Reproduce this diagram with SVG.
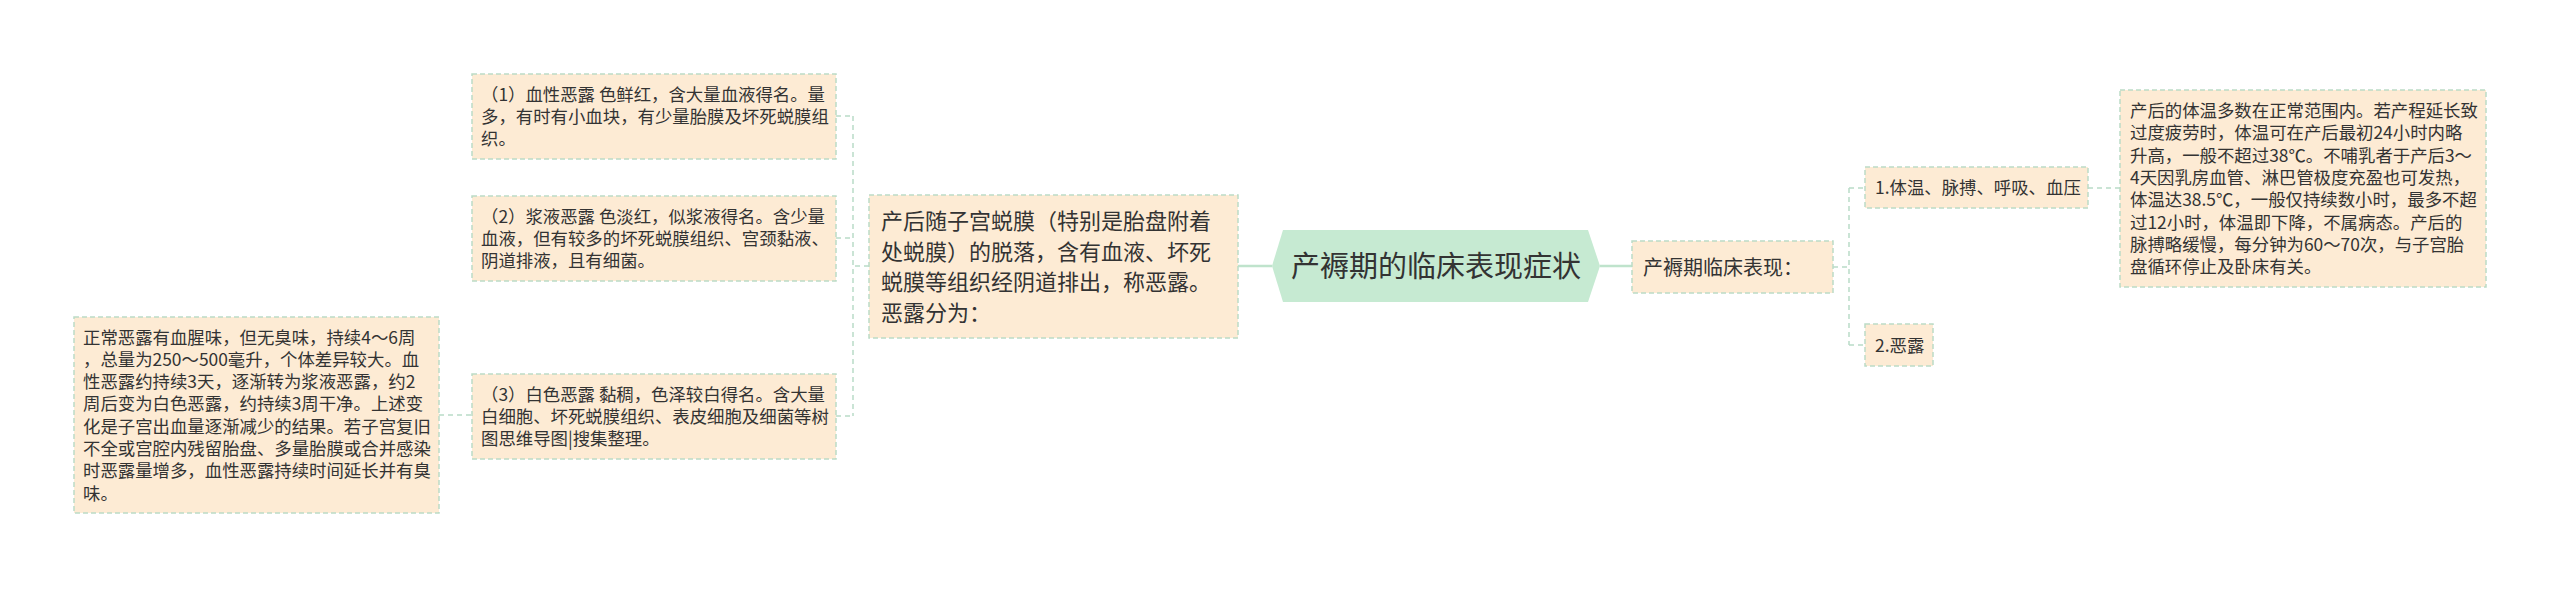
<svg xmlns="http://www.w3.org/2000/svg" width="2560" height="589" viewBox="0 0 2560 589">
<style>
.box{fill:#fdebd4;stroke:#bcdcc6;stroke-width:1.5;stroke-dasharray:5 3}
.t{font-family:"Noto Sans CJK SC","Noto Sans",sans-serif;fill:#333333}
.s{font-size:17.4px}
.m{font-size:22px}
.c{font-size:29px}
.r{font-size:20px}
.solid{fill:none;stroke:#bfe3cc;stroke-width:2.5}
.dash{fill:none;stroke:#b9dcc8;stroke-width:1.5;stroke-dasharray:5 4}
</style>
<rect width="2560" height="589" fill="#ffffff"/>
<g id="connectors">
<path class="solid" d="M1238,266 H1272 M1600,266 H1632"/>
<path class="dash" d="M869,266 H853 M853,116 V416 M836,116 H853 M836,238 H853 M836,416 H853"/>
<path class="dash" d="M439,415 H472"/>
<path class="dash" d="M1833,267 H1849 M1849,188 V345 M1849,188 H1865 M1849,345 H1865"/>
<path class="dash" d="M2088,188 H2120"/>
</g>
<g id="center">
<polygon points="1272,266 1283,230 1588,230 1600,266 1588,302 1283,302" fill="#c6ead2"/>
<text class="t c" x="1436" y="277" text-anchor="middle">产褥期的临床表现症状</text>
</g>
<g id="lochia-def">
<rect class="box" x="869" y="195" width="369" height="143"/>
<text class="t m"><tspan x="881" y="229">产后随子宫蜕膜（特别是胎盘附着</tspan><tspan x="881" y="259.5">处蜕膜）的脱落，含有血液、坏死</tspan><tspan x="881" y="290">蜕膜等组织经阴道排出，称恶露。</tspan><tspan x="881" y="320.5">恶露分为：</tspan></text>
</g>
<g id="lochia-1">
<rect class="box" x="472" y="74" width="364" height="85"/>
<text class="t s"><tspan x="481" y="100.7">（1）血性恶露 色鲜红，含大量血液得名。量</tspan><tspan x="481" y="123">多，有时有小血块，有少量胎膜及坏死蜕膜组</tspan><tspan x="481" y="145.3">织。</tspan></text>
</g>
<g id="lochia-2">
<rect class="box" x="472" y="196" width="364" height="85"/>
<text class="t s"><tspan x="481" y="222.7">（2）浆液恶露 色淡红，似浆液得名。含少量</tspan><tspan x="481" y="245">血液，但有较多的坏死蜕膜组织、宫颈黏液、</tspan><tspan x="481" y="267.3">阴道排液，且有细菌。</tspan></text>
</g>
<g id="lochia-3">
<rect class="box" x="472" y="374" width="364" height="85"/>
<text class="t s"><tspan x="481" y="400.7">（3）白色恶露 黏稠，色泽较白得名。含大量</tspan><tspan x="481" y="423">白细胞、坏死蜕膜组织、表皮细胞及细菌等树</tspan><tspan x="481" y="445.3">图思维导图|搜集整理。</tspan></text>
</g>
<g id="lochia-normal">
<rect class="box" x="74" y="317" width="365" height="196"/>
<text class="t s"><tspan x="83" y="343.5">正常恶露有血腥味，但无臭味，持续4～6周</tspan><tspan x="83" y="365.8">，总量为250～500毫升，个体差异较大。血</tspan><tspan x="83" y="388.1">性恶露约持续3天，逐渐转为浆液恶露，约2</tspan><tspan x="83" y="410.4">周后变为白色恶露，约持续3周干净。上述变</tspan><tspan x="83" y="432.7">化是子宫出血量逐渐减少的结果。若子宫复旧</tspan><tspan x="83" y="455">不全或宫腔内残留胎盘、多量胎膜或合并感染</tspan><tspan x="83" y="477.3">时恶露量增多，血性恶露持续时间延长并有臭</tspan><tspan x="83" y="499.6">味。</tspan></text>
</g>
<g id="clinical">
<rect class="box" x="1632" y="241" width="201" height="52"/>
<text class="t r" x="1643" y="274.6">产褥期临床表现：</text>
</g>
<g id="vitals">
<rect class="box" x="1865" y="167" width="223" height="41"/>
<text class="t s" x="1875" y="194">1.体温、脉搏、呼吸、血压</text>
</g>
<g id="lochia">
<rect class="box" x="1865" y="324" width="68" height="42"/>
<text class="t s" x="1875" y="351.5">2.恶露</text>
</g>
<g id="vitals-detail">
<rect class="box" x="2120" y="90" width="366" height="197"/>
<text class="t s"><tspan x="2130" y="117">产后的体温多数在正常范围内。若产程延长致</tspan><tspan x="2130" y="139.3">过度疲劳时，体温可在产后最初24小时内略</tspan><tspan x="2130" y="161.6">升高，一般不超过38℃。不哺乳者于产后3～</tspan><tspan x="2130" y="183.9">4天因乳房血管、淋巴管极度充盈也可发热，</tspan><tspan x="2130" y="206.2">体温达38.5℃，一般仅持续数小时，最多不超</tspan><tspan x="2130" y="228.5">过12小时，体温即下降，不属病态。产后的</tspan><tspan x="2130" y="250.8">脉搏略缓慢，每分钟为60～70次，与子宫胎</tspan><tspan x="2130" y="273.1">盘循环停止及卧床有关。</tspan></text>
</g>
</svg>
